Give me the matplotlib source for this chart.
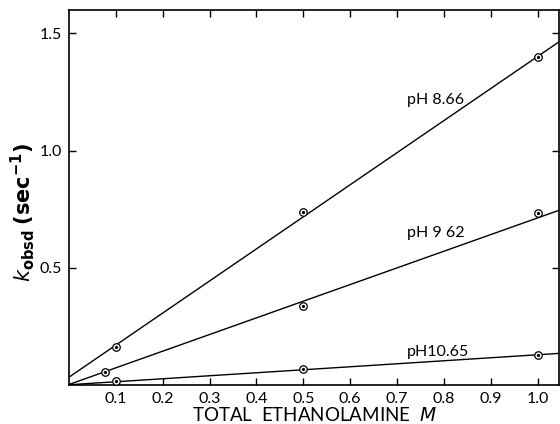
import matplotlib
matplotlib.use("Agg")
import matplotlib.pyplot as plt

# data
series = ["pH 8.66", "pH 9 62", "pH10.65"]
x_866 = [0.1, 0.5, 1.0]
y_866 = [0.163, 0.739, 1.398]
x_962 = [0.078, 0.5, 1.0]
y_962 = [0.055, 0.336, 0.733]
x_1065 = [0.1, 0.5, 1.0]
y_1065 = [0.017, 0.067, 0.129]
intercepts = [0.033, 0.002, 0.001]
slopes = [1.369, 0.711, 0.128]
label_pos = [(0.721, 1.215), (0.721, 0.65), (0.721, 0.142)]
xticks = [0.1, 0.2, 0.3, 0.4, 0.5, 0.6, 0.7, 0.8, 0.9, 1.0]
xticklabels = ["0.1", "0.2", "0.3", "0.4", "0.5", "0.6", "0.7", "0.8", "0.9", "1.0"]
yticks = [0.5, 1.0, 1.5]
yticklabels = ["0.5", "1.0", "1.5"]

plt.rcParams['font.family'] = ['Lato', 'DejaVu Sans']
fig = plt.figure(figsize=(5.6, 4.24), dpi=100)
ax = fig.add_axes([0.123, 0.092, 0.875, 0.884])

xs = [x_866, x_962, x_1065]
ys = [y_866, y_962, y_1065]
for xd, yd, b, m, name, pos in zip(xs, ys, intercepts, slopes, series, label_pos):
    ax.axline((0, b), slope=m, color="black", lw=1.0)
    ax.plot(xd, yd, linestyle="none", marker="o", ms=5.4, mfc="white",
            mec="black", mew=0.9, zorder=3)
    ax.plot(xd, yd, linestyle="none", marker="o", ms=1.3, color="black", zorder=4)
    ax.text(pos[0], pos[1], name, fontsize=11.5, ha="left", va="center")

ax.set_xlim(0, 1.045)
ax.set_ylim(0, 1.599)
ax.set_xticks(xticks)
ax.set_xticklabels(xticklabels)
ax.set_yticks(yticks)
ax.set_yticklabels(yticklabels)
ax.tick_params(direction="in", top=True, right=True, length=5, width=1,
               labelsize=11.5, pad=5)
for s in ax.spines.values():
    s.set_linewidth(1.2)

ax.set_xlabel("TOTAL  ETHANOLAMINE  $\\mathit{M}$", fontsize=13.5, labelpad=0)
ax.set_ylabel("$\\mathbf{\\mathit{k}}_{\\mathbf{obsd}}$ $\\mathbf{(sec^{-1})}$",
              fontsize=15, fontweight="bold", va="center")
ax.yaxis.set_label_coords(-0.094, 0.46)

fig.savefig("out.png", dpi=100)
